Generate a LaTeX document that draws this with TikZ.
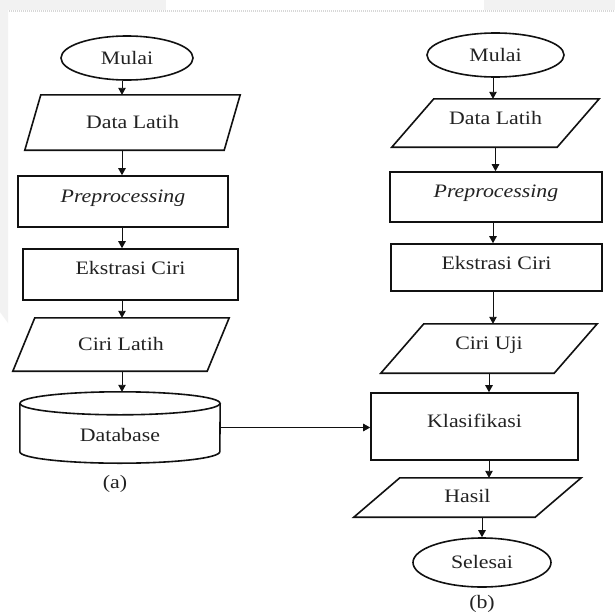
\documentclass[tikz,border=0pt]{standalone}
\usepackage{fontspec}
\setmainfont[FakeStretch=1.15]{Liberation Serif}
\usetikzlibrary{arrows.meta,shapes.geometric,calc}
\definecolor{linec}{HTML}{111111}
\definecolor{textc}{HTML}{222222}
\definecolor{bandgray}{HTML}{F2F2F2}
\definecolor{dotgray}{HTML}{D8D8D8}
\tikzset{
  txt/.style={font=\fontsize{19}{22}\selectfont, text=textc, text height=12.6pt, text depth=0pt, inner sep=0pt},
  outline/.style={draw=linec, line width=1.6pt},
  procbox/.style={txt, rectangle, outline},
  iobox/.style={txt, rectangle},
  terminal/.style={txt, ellipse, outline},
  raise/.style={text depth=#1},
  lower/.style={text height=#1},
  arr/.style={draw=linec, line width=0.9pt, -{Triangle[length=7pt,width=7.5pt]}}
}
\newcommand{\paraout}[2]{\draw[outline] ([xshift=#2]#1.north west) -- (#1.north east) -- ([xshift=-#2]#1.south east) -- (#1.south west) -- cycle;}
\begin{document}
\begin{tikzpicture}[x=1pt,y=-1pt]
\useasboundingbox (0,0) rectangle (615,613);
\fill[white] (0,0) rectangle (615,613);
% screenshot background
\fill[bandgray] (0,0) rectangle (615,10);
\fill[white] (166,0) rectangle (484,10);
\draw[dotgray, line width=1.6pt, dash pattern=on 1pt off 1pt] (9,11) -- (615,11);
\fill[bandgray] (0,10) -- (8,10) -- (8,323) -- (0,312) -- cycle;

% ---------- column (a) ----------
\node[terminal, minimum width=132pt, minimum height=44pt] (mulaiA) at (127,58) {Mulai};
\node[iobox, minimum width=215pt, minimum height=55pt] (dataA) at (132.5,122.5) {Data Latih};
\paraout{dataA}{16pt}
\node[procbox, minimum width=210pt, minimum height=51pt, raise=10pt] (prepA) at (123,201.5) {\itshape Preprocessing};
\node[procbox, minimum width=215pt, minimum height=51pt, raise=12pt] (ekstA) at (130.5,274.5) {Ekstrasi Ciri};
\node[iobox, minimum width=216pt, minimum height=53pt] (ciriA) at (121,344.5) {Ciri Latih};
\paraout{ciriA}{22pt}
\node[iobox, minimum width=200pt, minimum height=71pt, lower=28.6pt] (dbA) at (120,427.5) {Database};
\draw[outline] ([yshift=-11.5pt]dbA.north) ellipse[x radius=100pt, y radius=11.5pt];
\draw[outline] ([yshift=-11.5pt]dbA.north west) -- ([yshift=11.5pt]dbA.south west)
  arc[start angle=180, end angle=360, x radius=100pt, y radius=11.5pt] -- ([yshift=-11.5pt]dbA.north east);
\node[txt] (labA) at (115,482) {(a)};

\coordinate (axA) at (122,0);
\draw[arr] (mulaiA.south -| axA) -- (dataA.north -| axA);
\draw[arr] (dataA.south -| axA) -- (prepA.north -| axA);
\draw[arr] (prepA.south -| axA) -- (ekstA.north -| axA);
\draw[arr] (ekstA.south -| axA) -- (ciriA.north -| axA);
\draw[arr] (ciriA.south -| axA) -- (dbA.north -| axA);

% ---------- column (b) ----------
\node[terminal, minimum width=137pt, minimum height=44pt] (mulaiB) at (495.5,55) {Mulai};
\node[iobox, minimum width=207pt, minimum height=48pt, raise=10pt] (dataB) at (495.5,123) {Data Latih};
\paraout{dataB}{42pt}
\node[procbox, minimum width=212pt, minimum height=50pt, raise=11pt] (prepB) at (496,197) {\itshape Preprocessing};
\node[procbox, minimum width=211pt, minimum height=47pt, raise=8pt] (ekstB) at (496.5,267.5) {Ekstrasi Ciri};
\node[iobox, minimum width=216pt, minimum height=49pt, raise=10pt] (ciriB) at (489,348.5) {Ciri Uji};
\paraout{ciriB}{43pt}
\node[procbox, minimum width=207pt, minimum height=67pt, raise=10pt] (klasB) at (474.5,426.5) {Klasifikasi};
\node[iobox, minimum width=227pt, minimum height=39pt, raise=3pt] (hasilB) at (467.5,497.5) {Hasil};
\paraout{hasilB}{46pt}
\node[terminal, minimum width=138pt, minimum height=49pt] (selB) at (482,562.5) {Selesai};
\node[txt] (labB) at (482,602) {(b)};

\coordinate (axB) at (493,0);
\coordinate (axC) at (489,0);
\draw[arr] (mulaiB.south -| axB) -- (dataB.north -| axB);
\draw[arr] (dataB.south) -- (dataB.south |- prepB.north);
\draw[arr] (prepB.south -| axB) -- (ekstB.north -| axB);
\draw[arr] (ekstB.south -| axB) -- (ciriB.north -| axB);
\draw[arr] (ciriB.south) -- (ciriB.south |- klasB.north);
\draw[arr] (klasB.south -| axC) -- (hasilB.north -| axC);
\draw[arr] (hasilB.south -| selB.north) -- (selB.north);

% connector database -> klasifikasi
\draw[arr] (dbA.east) -- (dbA.east -| klasB.west);
\end{tikzpicture}
\end{document}
